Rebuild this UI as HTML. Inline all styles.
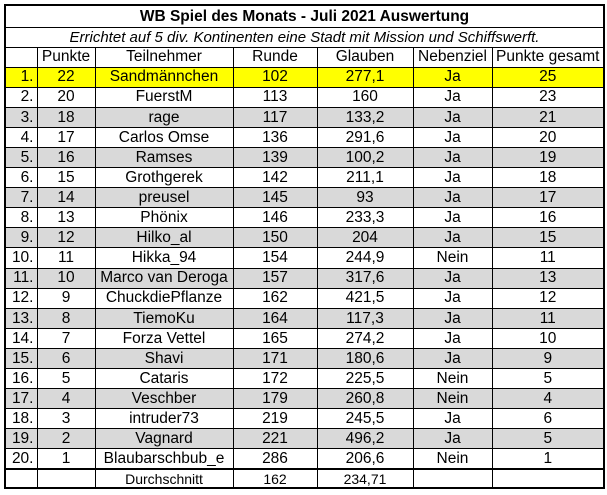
<!DOCTYPE html>
<html><head><meta charset="utf-8"><style>
body{margin:0;width:607px;height:495px;background:#fff;overflow:hidden;font-family:"Liberation Sans",Arial,sans-serif;}
table{position:absolute;left:4px;top:4px;border-collapse:collapse;table-layout:fixed;border:2px solid #000;}
td{border:1px solid #000;padding:0;text-align:center;font-size:15.5px;color:#000;white-space:nowrap;overflow:hidden;line-height:1;}
tr.r td{height:19.1px;}
tr.g td{background:#d9d9d9;}
tr.y td{background:#ffff00;}
td.t{font-weight:bold;font-size:15.5px;height:21px;}
td.s{font-style:italic;height:18.5px;font-size:15px;}
td.n{text-align:right;padding-right:3px;}
tr.last td{border-top:2px solid #000;height:17px;font-size:14px;}
</style></head><body>
<table>
<colgroup><col style="width:32px"><col style="width:58px"><col style="width:138px"><col style="width:84px"><col style="width:96px"><col style="width:79px"><col style="width:112px"></colgroup>
<tr><td class="t" colspan="7">WB Spiel des Monats - Juli 2021 Auswertung</td></tr>
<tr><td class="s" colspan="7">Errichtet auf 5 div. Kontinenten eine Stadt mit Mission und Schiffswerft.</td></tr>
<tr class="r"><td></td><td>Punkte</td><td>Teilnehmer</td><td>Runde</td><td>Glauben</td><td>Nebenziel</td><td>Punkte gesamt</td></tr>
<tr class="r y"><td class="n">1.</td><td>22</td><td>Sandmännchen</td><td>102</td><td>277,1</td><td>Ja</td><td>25</td></tr>
<tr class="r"><td class="n">2.</td><td>20</td><td>FuerstM</td><td>113</td><td>160</td><td>Ja</td><td>23</td></tr>
<tr class="r g"><td class="n">3.</td><td>18</td><td>rage</td><td>117</td><td>133,2</td><td>Ja</td><td>21</td></tr>
<tr class="r"><td class="n">4.</td><td>17</td><td>Carlos Omse</td><td>136</td><td>291,6</td><td>Ja</td><td>20</td></tr>
<tr class="r g"><td class="n">5.</td><td>16</td><td>Ramses</td><td>139</td><td>100,2</td><td>Ja</td><td>19</td></tr>
<tr class="r"><td class="n">6.</td><td>15</td><td>Grothgerek</td><td>142</td><td>211,1</td><td>Ja</td><td>18</td></tr>
<tr class="r g"><td class="n">7.</td><td>14</td><td>preusel</td><td>145</td><td>93</td><td>Ja</td><td>17</td></tr>
<tr class="r"><td class="n">8.</td><td>13</td><td>Phönix</td><td>146</td><td>233,3</td><td>Ja</td><td>16</td></tr>
<tr class="r g"><td class="n">9.</td><td>12</td><td>Hilko_al</td><td>150</td><td>204</td><td>Ja</td><td>15</td></tr>
<tr class="r"><td class="n">10.</td><td>11</td><td>Hikka_94</td><td>154</td><td>244,9</td><td>Nein</td><td>11</td></tr>
<tr class="r g"><td class="n">11.</td><td>10</td><td>Marco van Deroga</td><td>157</td><td>317,6</td><td>Ja</td><td>13</td></tr>
<tr class="r"><td class="n">12.</td><td>9</td><td>ChuckdiePflanze</td><td>162</td><td>421,5</td><td>Ja</td><td>12</td></tr>
<tr class="r g"><td class="n">13.</td><td>8</td><td>TiemoKu</td><td>164</td><td>117,3</td><td>Ja</td><td>11</td></tr>
<tr class="r"><td class="n">14.</td><td>7</td><td>Forza Vettel</td><td>165</td><td>274,2</td><td>Ja</td><td>10</td></tr>
<tr class="r g"><td class="n">15.</td><td>6</td><td>Shavi</td><td>171</td><td>180,6</td><td>Ja</td><td>9</td></tr>
<tr class="r"><td class="n">16.</td><td>5</td><td>Cataris</td><td>172</td><td>225,5</td><td>Nein</td><td>5</td></tr>
<tr class="r g"><td class="n">17.</td><td>4</td><td>Veschber</td><td>179</td><td>260,8</td><td>Nein</td><td>4</td></tr>
<tr class="r"><td class="n">18.</td><td>3</td><td>intruder73</td><td>219</td><td>245,5</td><td>Ja</td><td>6</td></tr>
<tr class="r g"><td class="n">19.</td><td>2</td><td>Vagnard</td><td>221</td><td>496,2</td><td>Ja</td><td>5</td></tr>
<tr class="r"><td class="n">20.</td><td>1</td><td>Blaubarschbub_e</td><td>286</td><td>206,6</td><td>Nein</td><td>1</td></tr>
<tr class="last"><td></td><td></td><td>Durchschnitt</td><td>162</td><td>234,71</td><td></td><td></td></tr>
</table>
</body></html>
